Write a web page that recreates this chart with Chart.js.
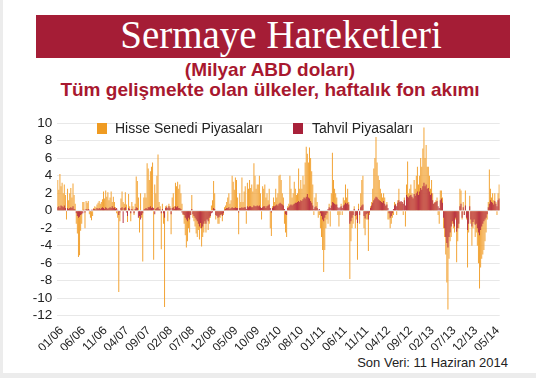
<!DOCTYPE html>
<html>
<head>
<meta charset="utf-8">
<script src="https://cdn.jsdelivr.net/npm/chart.js@4.4.1/dist/chart.umd.min.js"></script>
<style>
html,body{margin:0;padding:0;background:#fff}
#wrap{position:relative;width:536px;height:378px;overflow:hidden;background:#fff;font-family:"Liberation Sans",Arial,sans-serif}
#edge{position:absolute;left:0;top:0;width:3px;height:378px;background:#ececec}
#bottom{position:absolute;left:0;top:373px;width:536px;height:5px;background:#ececec}
#banner{position:absolute;left:36px;top:15px;width:474px;height:43px;background:#a51d36}
#title{position:absolute;left:41px;width:480px;top:15px;text-align:center;color:#fff;font:39px/40px "Liberation Serif","Times New Roman",serif}
.sub{position:absolute;left:0;width:540px;text-align:center;color:#a8182f;font:bold 19px/20px "Liberation Sans",Arial,sans-serif}
.sq{position:absolute;top:123px;width:10px;height:11px}
.lg{position:absolute;top:121px;font:14px/15px "Liberation Sans",Arial,sans-serif;color:#222;white-space:nowrap}
#src{position:absolute;right:28px;top:355px;font:13px/15px "Liberation Sans",Arial,sans-serif;color:#222}
#c{position:absolute;left:0;top:110px}
</style>
</head>
<body>
<div id="wrap">
  <div id="edge"></div>
  <div id="bottom"></div>
  <div id="banner"></div>
  <div id="title">Sermaye Hareketleri</div>
  <div class="sub" style="top:60px">(Milyar ABD doları)</div>
  <div class="sub" style="top:80px">Tüm gelişmekte olan ülkeler, haftalık fon akımı</div>
  <canvas id="c" width="536" height="240"></canvas>
  <div class="sq" style="left:97px;background:#ef9b22"></div>
  <div class="lg" style="left:115px">Hisse Senedi Piyasaları</div>
  <div class="sq" style="left:293px;background:#a8213a"></div>
  <div class="lg" style="left:312px">Tahvil Piyasaları</div>
  <div id="src">Son Veri: 11 Haziran 2014</div>
</div>
<script>
// weekly EM fund flows, bn USD — 4 slots per month, Jan 2006 .. Jun 2014
const C = {equity:"#f2a232", bond:"#b83446", grid:"#e8e8e8", text:"#222"};
Chart.defaults.font.family = '"Liberation Sans", Arial, sans-serif';

const tickLabels = ["01/06","06/06","11/06","04/07","09/07","02/08","07/08","12/08","05/09","10/09",
  "03/10","08/10","01/11","06/11","11/11","04/12","09/12","02/13","07/13","12/13","05/14"];

const hisse = [
  // 2006
  3.5,2.4,4.2,2.8, 3.2,2.0,3.0,1.8, -1.0,2.5,1.2,2.0, 2.6,1.5,3.1,1.8, 0.8,-1.5,-2.6,-5.3, -5.1,-2.3,-1.5,1.0,
  1.0,-2.0,1.1,0.9, 1.1,-0.4,-0.8,-1.1, -0.6,0.3,0.5,0.4, 0.7,0.9,1.1,0.8, 1.0,1.3,2.2,1.4, 2.3,1.6,2.1,1.2,
  // 2007
  1.5,2.2,1.0,1.6, 1.0,0.4,-0.3,-0.8, -9.3,-1.2,1.4,2.2, 1.0,0.8,2.1,0.7, -1.3,1.9,0.5,-1.2, 1.0,0.5,-0.5,0.8,
  3.9,3.4,1.5,-2.5, 2.0,-0.8,-5.8,1.5, 2.0,1.5,5.4,4.8, 3.5,4.5,5.0,5.5, -5.6,3.0,2.0,4.0, 6.4,1.0,0.5,-4.4,
  // 2008
  0.8,-1.5,-11.0,0.5, 0.6,-1.2,0.8,0.5, -2.7,1.5,2.0,0.5, 3.2,2.8,3.3,2.5, 3.0,2.0,0.8,-0.5, -1.5,-2.8,-4.2,-3.5,
  -2.0,-2.5,-0.5,1.8, -0.8,-1.2,-1.8,-2.6, -3.0,-2.2,-3.3,-2.0, -4.1,-3.0,-2.5,-1.5, -2.5,-1.0,-2.2,-1.5, -0.8,0.6,1.2,3.4,
  // 2009
  2.0,-1.0,-0.5,-1.5, -1.5,-0.8,-0.5,-1.2, -0.5,0.4,0.6,1.0, 1.5,2.0,0.8,1.2, 4.0,3.3,2.4,3.8, 3.5,1.5,-2.7,2.0,
  1.0,3.8,1.0,2.2, 2.8,-1.5,3.2,2.5, 3.5,2.6,3.0,2.2, 5.4,4.0,2.5,3.0, 3.0,4.0,2.0,-1.0, 2.8,2.5,3.0,1.5,
  // 2010
  2.0,1.2,2.5,-2.0, -2.9,0.5,1.5,1.0, 2.5,1.5,2.0,4.0, 4.1,3.5,2.0,1.5, -1.5,-2.5,-3.0,0.5, 0.8,4.0,2.5,1.5,
  2.0,3.3,2.5,1.8, 2.0,4.8,2.5,3.5, 2.5,4.0,3.0,5.5, 7.3,6.5,5.5,7.2, 6.0,4.5,3.0,-0.5, 1.5,2.0,1.0,-0.8,
  // 2011
  -0.5,-2.0,-3.0,-4.5, -7.0,-4.5,-2.0,-1.0, -1.5,0.8,-1.8,2.0, 6.6,3.5,2.5,2.0, 1.5,-0.5,-1.8,-0.5, 0.8,-0.5,1.5,1.2,
  3.0,1.5,2.5,1.0, -7.8,-3.5,-2.0,-1.5, 0.5,-2.0,-1.0,-5.6, 0.8,-1.5,2.0,3.5, 4.0,-2.0,-2.8,-1.0, -1.0,-4.6,-0.5,0.5,
  // 2012
  1.0,2.5,4.8,6.0, 8.4,5.5,4.0,3.5, 2.5,2.0,1.5,2.0, 1.5,0.5,1.0,-1.0, -1.0,-2.0,-1.5,-0.8, -0.5,1.0,0.8,-0.5,
  1.2,2.5,1.0,0.8, 1.0,-0.5,1.5,-1.8, 3.0,5.6,2.0,2.5, 3.0,2.0,1.5,3.5, 2.5,4.0,5.0,3.0, 4.0,6.0,5.0,7.1,
  // 2013
  9.5,6.0,7.5,5.0, 5.0,4.0,2.5,3.5, 2.0,0.8,1.0,1.2, 1.5,-0.5,-1.5,2.3, 2.3,1.5,-2.0,-3.0, -5.0,-8.2,-11.3,-5.5,
  -3.5,-3.0,-1.5,-2.0, -2.5,-1.0,-5.9,-3.5, -2.0,2.5,2.3,-1.0, 1.0,-0.5,2.3,-1.0, -6.5,-2.5,1.7,-1.5, -4.0,-2.0,-1.5,-3.0,
  // 2014
  -2.5,-4.0,-6.0,-8.9, -6.5,-5.5,-5.0,-4.5, -3.5,-2.5,-1.0,1.0, 4.7,2.5,1.5,2.0, 1.2,2.0,1.0,-0.5, 2.0,3.0,
];

const tahvil = [
  // 2006
  0.4,0.5,0.3,0.6, 0.5,0.4,0.6,0.3, -0.1,0.3,0.2,0.3, 0.4,0.3,0.5,0.2, 0.1,-0.3,-0.6,-0.8, -0.7,-0.5,-0.4,-0.3,
  0.1,-0.2,0.2,0.1, 0.2,0.1,-0.1,0.1, 0.1,0.2,0.2,0.1, 0.3,0.2,0.3,0.2, 0.3,0.4,0.3,0.2, 0.4,0.3,0.2,0.3,
  // 2007
  0.4,0.3,0.5,0.3, 0.4,0.2,0.3,0.1, -0.5,-0.2,0.3,0.4, -1.4,0.3,0.4,-0.2, -0.6,0.3,0.2,-0.3, 0.2,0.1,-0.3,0.2,
  0.4,0.3,-0.8,-0.6, -1.0,-0.5,-0.3,0.1, 0.2,0.3,0.2,0.4, 0.4,0.5,0.3,0.4, 0.3,-0.4,0.2,0.3, 0.4,0.2,0.1,-0.3,
  // 2008
  0.2,-0.3,-0.8,0.3, 0.4,0.3,0.5,0.3, -0.4,0.3,0.4,0.2, 0.5,0.4,0.5,0.3, 0.3,0.2,-0.2,-0.4, -0.5,-0.8,-1.0,-1.2,
  -0.8,-1.0,-0.5,0.2, -0.4,-0.6,-0.8,-1.0, -1.2,-1.5,-1.8,-1.4, -2.0,-1.8,-1.5,-1.2, -1.5,-1.0,-1.2,-0.8, -0.6,-0.3,-0.2,0.3,
  // 2009
  0.2,-0.5,-0.6,-0.8, -0.7,-0.5,-0.4,-0.6, -0.3,0.1,0.2,0.3, 0.3,0.4,0.2,0.3, 0.4,0.3,0.3,0.4, 0.3,0.3,-0.2,0.3,
  0.3,0.4,0.3,0.4, 0.4,0.2,0.5,0.4, 0.5,0.5,0.4,0.4, 0.6,0.5,0.5,0.6, 0.5,0.6,0.4,0.3, 0.4,0.5,0.5,0.3,
  // 2010
  0.5,0.6,0.7,0.3, -0.2,0.3,0.5,0.5, 0.6,0.7,0.6,0.8, 0.9,0.8,0.7,0.6, 0.2,-0.4,-0.5,0.3, 0.4,0.6,0.7,0.6,
  0.7,0.8,0.9,0.9, 1.0,1.1,1.0,1.2, 1.1,1.3,1.5,1.4, 1.6,1.9,1.5,1.4, 1.1,0.9,0.6,0.2, 0.4,0.5,0.3,0.1,
  // 2011
  0.2,-0.3,-0.6,-1.0, -1.2,-0.8,-0.5,-0.3, 0.2,0.4,0.3,0.6, 1.0,0.9,0.8,0.7, 0.7,0.4,0.3,0.4, 0.5,0.3,0.6,0.7,
  0.9,0.8,0.9,0.7, -1.5,-1.2,-0.8,-0.5, 0.2,-0.6,-0.5,-1.4, 0.2,-0.5,0.4,0.6, 0.7,-0.6,-0.9,-0.4, -0.3,-1.0,-0.2,0.3,
  // 2012
  0.6,0.9,1.2,1.4, 1.6,1.5,1.3,1.2, 1.1,1.0,0.9,1.1, 0.8,0.6,0.7,0.3, -0.3,-0.8,-0.6,-0.3, 0.2,0.6,0.7,0.5,
  0.9,1.2,1.0,1.1, 1.0,0.8,1.2,0.6, 1.8,1.6,1.5,1.7, 1.8,1.6,1.4,1.9, 1.7,2.0,2.2,1.8, 2.2,2.6,2.4,2.8,
  // 2013
  3.2,2.8,3.0,2.5, 2.6,2.2,1.8,2.0, 1.2,0.8,0.9,1.0, 1.1,0.5,0.3,1.2, 1.4,0.9,-0.8,-2.0, -3.0,-3.7,-4.2,-3.0,
  -2.5,-1.8,-1.2,-1.5, -1.8,-0.8,-2.4,-2.0, -1.5,0.5,0.8,-0.8, 0.4,-0.5,0.6,-0.8, -2.2,-1.5,0.5,-1.0, -1.8,-1.3,-1.0,-1.6,
  // 2014
  -1.5,-2.0,-2.5,-2.8, -2.2,-1.8,-1.5,-1.2, -1.0,-0.8,-0.4,0.4, 0.8,1.2,1.0,0.9, 0.7,1.1,0.8,0.5, 1.2,1.4,
];

const labels = hisse.map((_, i) => i);
const WEEKS_PER_TICK = 20; // 5 months x 4 slots

new Chart(document.getElementById("c"), {
  type: "bar",
  data: {labels, datasets: [
    {label:"Hisse Senedi Piyasaları", data:hisse, backgroundColor:C.equity, order:2},
    {label:"Tahvil Piyasaları", data:tahvil, backgroundColor:C.bond, order:1},
  ]},
  options: {
    responsive:false, animation:false, devicePixelRatio:1,
    layout:{padding:{top:10.7, right:36.3, bottom:0, left:0}},
    datasets:{bar:{grouped:false, barPercentage:0.9, categoryPercentage:1, borderWidth:0}},
    plugins:{legend:{display:false}, tooltip:{enabled:false}},
    scales:{
      x:{grid:{display:false}, border:{display:false},
         afterBuildTicks:s => { s.ticks = s.ticks.filter(t => t.value % WEEKS_PER_TICK === 0); },
         afterFit:s => { s.height = 34.3; },
         ticks:{autoSkip:false, minRotation:45, maxRotation:45, padding:0, labelOffset:4,
                color:C.text, font:{size:12}, callback:v => tickLabels[v / WEEKS_PER_TICK]}},
      y:{min:-12, max:10, afterFit:s => { s.width = 57.2; },
         ticks:{stepSize:2, autoSkip:false, color:C.text, font:{size:13.5}, padding:5},
         grid:{color:C.grid, drawTicks:false}, border:{display:false}},
    },
  },
});
</script>
</body>
</html>
